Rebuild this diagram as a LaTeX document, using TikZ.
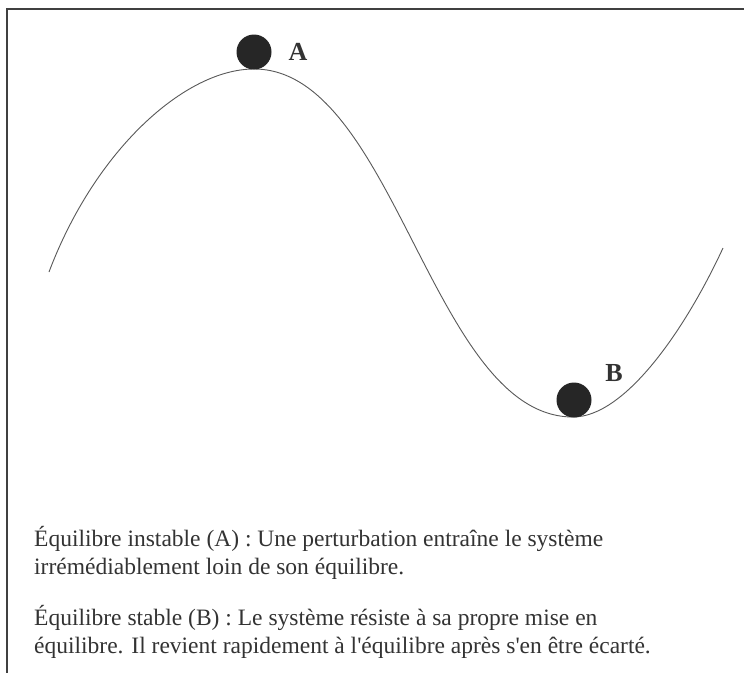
\documentclass[tikz,border=0pt]{standalone}
\usepackage{fontspec}
\setmainfont{Liberation Serif}[Ligatures=TeXOff]
\begin{document}
\begin{tikzpicture}[x=1pt,y=-1pt,
  frame/.style={draw=black!75,line width=1.8pt},
  curve/.style={draw=black!65,line width=0.9pt},
  ball/.style={circle,fill=black!85,draw=none,minimum size=35pt,inner sep=0pt},
  lab/.style={font=\fontsize{26}{26}\selectfont\bfseries,text=black!80,inner sep=0pt},
  txt/.style={font=\fontsize{23.5}{29}\selectfont,text=black!80,inner sep=0pt,anchor=base west}]
\useasboundingbox (0,0) rectangle (744,673);
\fill[white] (0,0) rectangle (744,673);
\draw[frame] (744,9) -- (7,9) -- (7,673);
\draw[curve] (49,272) .. controls (95,150) and (185,69) .. (254,69)
  .. controls (395,69) and (432,417) .. (573,417)
  .. controls (625,417) and (685,330) .. (723,248);
\node[ball] (ballA) at (254,52) {};
\node[ball] (ballB) at (574,400) {};
\node[lab] (labA) at (298,52) {A};
\node[lab] (labB) at (614,373) {B};
\node[txt] (l1) at (34,546) {Équilibre instable (A) : Une perturbation entraîne le système};
\node[txt] (l2) at (34,574) {irrémédiablement loin de son équilibre.};
\node[txt] (l3) at (34,625) {Équilibre stable (B) : Le système résiste à sa propre mise en};
\node[txt] (l4) at (34,653) {équilibre. Il revient rapidement à l'équilibre après s'en être écarté.};
\end{tikzpicture}
\end{document}
